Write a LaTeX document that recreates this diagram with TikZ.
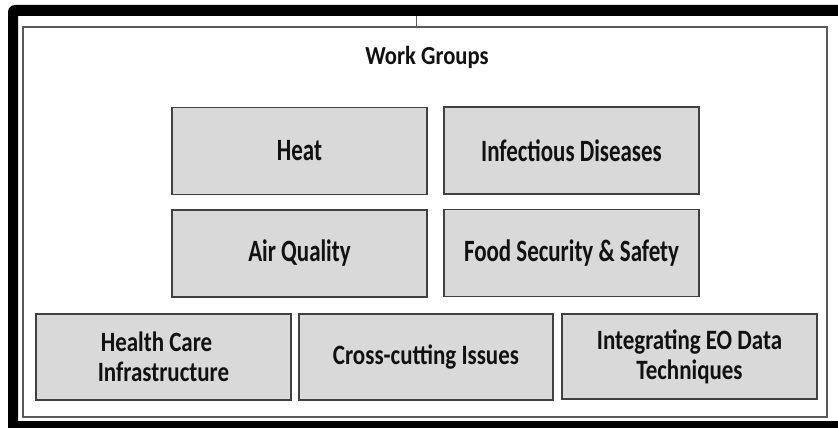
\documentclass[tikz,border=0pt]{standalone}
\usepackage{fontspec}
\newfontfamily\wgfont[FakeStretch=0.87]{Carlito}
\newfontfamily\midfont[FakeStretch=0.74]{Carlito}
\newfontfamily\botfont[FakeStretch=0.82]{Carlito}
\definecolor{boxfill}{HTML}{D9D9D9}
\definecolor{boxline}{HTML}{404040}
\definecolor{frameline}{HTML}{5A5A5A}
\definecolor{txt}{HTML}{111111}
\tikzset{
  wbox/.style={draw=boxline, fill=boxfill, line width=1.3pt, inner sep=0pt, outer sep=0pt,
    text=txt, align=center},
  midbox/.style={wbox, minimum width=255pt, minimum height=87pt, font=\midfont\bfseries\fontsize{31}{34}\selectfont},
  botbox/.style={wbox, minimum width=255pt, minimum height=86pt, font=\botfont\bfseries\fontsize{28}{30}\selectfont},
}
\begin{document}
\begin{tikzpicture}[x=1pt,y=-1pt]
\useasboundingbox (0,0) rectangle (838,428);
\fill[white] (0,0) rectangle (838,428);
% black frame: top band, left band, bottom band (open on the right)
\fill[black] (8,12) arc[start angle=180, end angle=270, radius=7] -- (838,5) -- (838,16) -- (18,16) -- (18,428) -- (8,428) -- cycle;
\fill[black] (18,421) rectangle (838,428);
% inner panel
\draw[frameline, line width=1.3pt] (23,27) rectangle (827,417);
\coordinate (stubtop) at (416,16);
\coordinate (stubbot) at (416,27);
\draw[frameline, line width=1pt] (stubtop) -- (stubbot);
\node[anchor=base, text=txt, font=\wgfont\bfseries\fontsize{26}{30}\selectfont, inner sep=0pt] (title) at (427,65) {Work Groups};
% boxes
\node[midbox] (heat) at (299.5,151) {Heat};
\node[midbox] (infect) at (571.5,150.5) {Infectious Diseases};
\node[midbox] (air) at (299.5,253.5) {Air Quality};
\node[midbox] (food) at (571.5,253) {Food Security \& Safety};
\node[botbox] (health) at (163.5,357) {Health Care\hspace*{14pt}\\Infrastructure};
\node[botbox, minimum width=254pt] (cross) at (426,357) {Cross-cutting Issues};
\node[botbox, minimum height=85pt] (eo) at (689.5,356.5) {Integrating EO Data\\Techniques};
\end{tikzpicture}
\end{document}
